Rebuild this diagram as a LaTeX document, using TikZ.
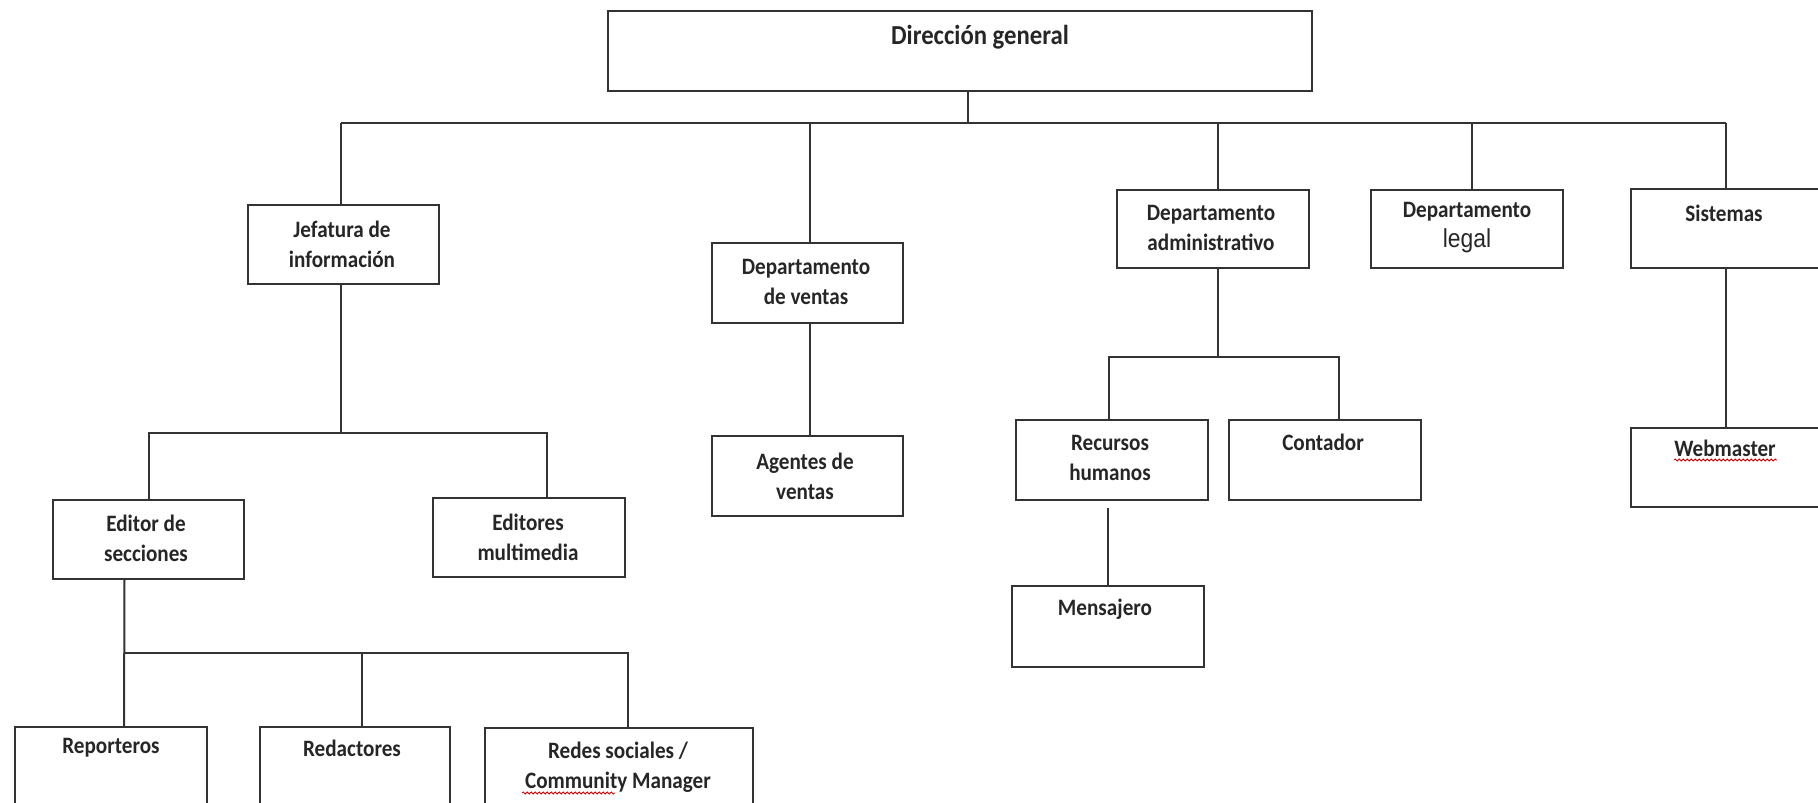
\documentclass[tikz,border=0pt]{standalone}
\usepackage{fontspec}
\setmainfont{Carlito}[FakeStretch=0.9]
\newfontfamily\arialf{Liberation Sans}[FakeStretch=0.88]
\usetikzlibrary{calc,decorations.pathmorphing}
\begin{document}
\begin{tikzpicture}[x=1pt,y=-1pt,
  box/.style={draw=black!80,line width=2pt,rectangle,inner sep=0pt,anchor=north west},
  conn/.style={draw=black!80,line width=2pt},
  lbl/.style={inner sep=0pt,align=center,text=black!85,font=\fontsize{23.5}{30}\selectfont\bfseries},
  wavy/.style={draw=red!80!black,line width=0.8pt,decorate,decoration={snake,amplitude=1pt,segment length=4pt}}]
\useasboundingbox (0,0) rectangle (1818,803);
\clip (0,0) rectangle (1818,803);
% boxes
\node[box,minimum width=704,minimum height=80] (dg) at (607,10) {};
\node[box,minimum width=191,minimum height=79] (jef) at (247,204) {};
\node[box,minimum width=191,minimum height=80] (ven) at (711,242) {};
\node[box,minimum width=192,minimum height=78] (adm) at (1116,189) {};
\node[box,minimum width=192,minimum height=78] (leg) at (1370,189) {};
\node[box,minimum width=190,minimum height=79] (sis) at (1630,188) {};
\node[box,minimum width=190,minimum height=79] (web) at (1630,427) {};
\node[box,minimum width=191,minimum height=79] (eds) at (52,499) {};
\node[box,minimum width=192,minimum height=79] (edm) at (432,497) {};
\node[box,minimum width=191,minimum height=80] (age) at (711,435) {};
\node[box,minimum width=192,minimum height=80] (rh) at (1015,419) {};
\node[box,minimum width=192,minimum height=80] (con) at (1228,419) {};
\node[box,minimum width=192,minimum height=81] (men) at (1011,585) {};
\node[box,minimum width=192,minimum height=110] (rep) at (14,726) {};
\node[box,minimum width=190,minimum height=110] (red) at (259,726) {};
\node[box,minimum width=268,minimum height=110] (rds) at (484,727) {};
% texts
\node[lbl,font=\fontsize{27.5}{30}\selectfont\bfseries] (dgt) at (980,37) {Dirección general};
\node[lbl] (jeft) at (342,244) {Jefatura de\\información};
\node[lbl] (vent) at (806,282) {Departamento\\de ventas};
\node[lbl] (admt) at (1211,228) {Departamento\\administrativo};
\node[lbl] (legt) at (1467,228) {Departamento\\{\arialf\mdseries\fontsize{26}{30}\selectfont legal}};
\node[lbl] (sist) at (1724,213) {Sistemas};
\node[lbl] (webt) at (1725,448) {Webmaster};
\node[lbl] (edst) at (146,538) {Editor de\\secciones};
\node[lbl] (edmt) at (528,537) {Editores\\multimedia};
\node[lbl] (aget) at (805,476) {Agentes de\\ventas};
\node[lbl] (rht) at (1110,458) {Recursos\\humanos};
\node[lbl] (cont) at (1323,442) {Contador};
\node[lbl] (ment) at (1105,609) {Mensajero};
\node[lbl] (rept) at (111,748) {Reporteros};
\node[lbl] (redt) at (352,748) {Redactores};
\node[lbl] (rdst) at (618,767) {Redes sociales /\\Community Manager};
% bus coordinates
\coordinate (b1) at (0,123);
\coordinate (b2) at (0,433);
\coordinate (b3) at (0,653);
\coordinate (b4) at (0,357);
% level 1
\draw[conn] ([xshift=8pt]dg.south) -- ([xshift=8pt]dg.south |- b1);
\draw[conn] ([xshift=-3pt]jef.north |- b1) -- (sis.north |- b1);
\draw[conn] ([xshift=-3pt]jef.north |- b1) -- ([xshift=-3pt]jef.north);
\draw[conn] ([xshift=2pt]ven.north |- b1) -- ([xshift=2pt]ven.north);
\draw[conn] ([xshift=5pt]adm.north |- b1) -- ([xshift=5pt]adm.north);
\draw[conn] ([xshift=5pt]leg.north |- b1) -- ([xshift=5pt]leg.north);
\draw[conn] (sis.north |- b1) -- (sis.north);
% jefatura
\draw[conn] ([xshift=-3pt]jef.south) -- ([xshift=-3pt]jef.south |- b2);
\draw[conn] (eds.north) -- (eds.north |- b2) -- ([xshift=18pt]edm.north |- b2) -- ([xshift=18pt]edm.north);
% editor de secciones
\draw[conn] ([xshift=-24pt]eds.south) -- ([xshift=13pt]rep.north);
\draw[conn] ([xshift=13pt]rep.north |- b3) -- ([xshift=9pt]rds.north |- b3) -- ([xshift=9pt]rds.north);
\draw[conn] ([xshift=7pt]red.north |- b3) -- ([xshift=7pt]red.north);
% ventas
\draw[conn] ([xshift=2pt]ven.south) -- ([xshift=2pt]age.north);
% administrativo
\draw[conn] ([xshift=5pt]adm.south) -- ([xshift=5pt]adm.south |- b4);
\draw[conn] ([xshift=-3pt]rh.north) -- ([xshift=-3pt]rh.north |- b4) -- ([xshift=14pt]con.north |- b4) -- ([xshift=14pt]con.north);
\draw[conn] ([yshift=-7pt]men.north |- rh.south) -- (men.north);
% sistemas
\draw[conn] (sis.south) -- (web.north);
% spell-check underlines
\draw[wavy] (1674,460) -- (1777,460);
\draw[wavy] (522,793) -- (615,793);
\end{tikzpicture}
\end{document}
